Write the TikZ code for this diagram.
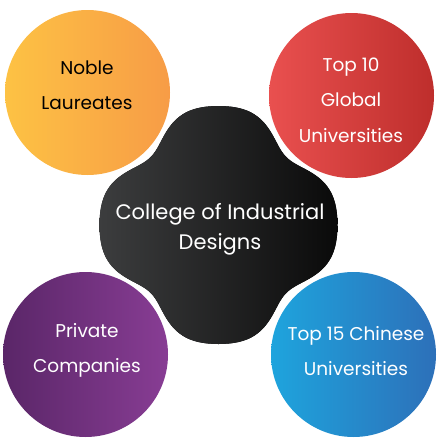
\documentclass[tikz,border=0pt]{standalone}
\usepackage{fontspec}
\setmainfont{Poppins}
\usepackage{xcolor}
\definecolor{orangeleft}{HTML}{FDC244}
\definecolor{orangeright}{HTML}{F79C46}
\definecolor{redleft}{HTML}{E9504F}
\definecolor{redright}{HTML}{BE2E2C}
\definecolor{purpleleft}{HTML}{5A2668}
\definecolor{purpleright}{HTML}{883D94}
\definecolor{blueleft}{HTML}{1EA4DD}
\definecolor{blueright}{HTML}{2D70B9}
\definecolor{coreleft}{HTML}{3C3D3E}
\definecolor{coreright}{HTML}{0A0A0A}

\begin{document}
\begin{tikzpicture}[x=1pt, y=-1pt]
    \tikzstyle{bubble} = [circle, inner sep=0pt, minimum size=165pt]
    \tikzstyle{caption} = [align=center, inner sep=0pt, font=\fontsize{18.5}{35.5}\selectfont, text=white]

    \useasboundingbox (0,0) rectangle (442,448);

    % Central blob
    \fill[left color=coreleft, right color=coreright]
        plot[variable=\t, domain=0:360, samples=241]
        ({218.5+(119-23*((1-cos(4*\t))/2)^2)*cos(\t)}, {225+(119-23*((1-cos(4*\t))/2)^2)*sin(\t)}) -- cycle;
    \node[caption, font=\fontsize{21}{30}\selectfont] (core) at (220,229) {College of Industrial\\Designs};

    % Top left
    \node[bubble, left color=orangeleft, right color=orangeright] (noblec) at (87.5,92.5) {};
    \node[caption, text=black] (noble) at (87,85) {Noble\\Laureates};

    % Top right
    \node[bubble, left color=redleft, right color=redright] (globalc) at (351.5,95.5) {};
    \node[caption] (global) at (351,100) {Top 10\\Global\\Universities};

    % Bottom left
    \node[bubble, left color=purpleleft, right color=purpleright] (privatec) at (85.5,354.5) {};
    \node[caption] (private) at (87,350.5) {Private\\Companies};

    % Bottom right
    \node[bubble, left color=blueleft, right color=blueright] (chinac) at (353.5,354.5) {};
    \node[caption] (china) at (356,351) {Top 15 Chinese\\Universities};

\end{tikzpicture}
\end{document}
